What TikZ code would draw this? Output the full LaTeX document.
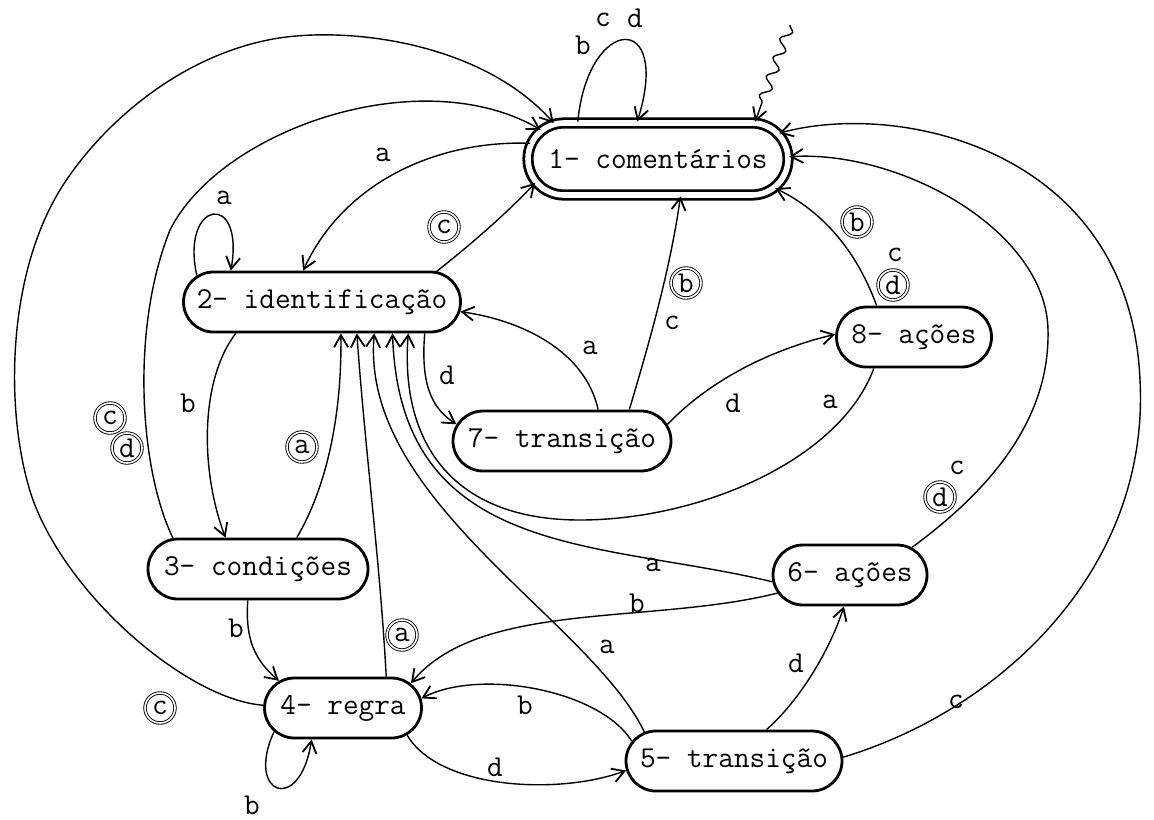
\documentclass[tikz,border=0pt]{standalone}
\usepackage{tikz}
\usetikzlibrary{arrows.meta}
\usetikzlibrary{shapes.misc}
\usetikzlibrary{decorations.pathmorphing}

\newcommand{\estadotxt}[1]{\makebox[0pt]{#1}}

\tikzset{
  estado/.style={rounded rectangle, draw, line width=1.4pt, minimum height=30pt,
    inner xsep=0pt, inner ysep=2pt, font=\ttfamily\fontsize{15.2}{18}\selectfont},
  rotulo/.style={inner sep=1pt, font=\ttfamily\fontsize{15.2}{18}\selectfont},
  circulo/.style={rotulo, circle, draw, double, line width=0.45pt, double distance=0.8pt,
    minimum size=15pt, inner sep=0pt},
  aresta/.style={-{Straight Barb[length=6pt,width=7pt,line width=0.9pt]}, line width=0.7pt}
}

\begin{document}
\begin{tikzpicture}[x=0.5pt, y=-0.5pt]
\useasboundingbox (0,0) rectangle (1154,819);

\node[estado, double, double distance=2.8pt, minimum width=130pt, minimum height=36pt] (n1) at (658,159) {\estadotxt{1- comentários}};
\node[estado, minimum width=138.5pt] (n2) at (322,302) {\estadotxt{2- identificação}};
\node[estado, minimum width=110pt] (n3) at (258,569) {\estadotxt{3- condições}};
\node[estado, minimum width=78.5pt] (n4) at (343,708) {\estadotxt{4- regra}};
\node[estado, minimum width=108pt] (n5) at (734,761) {\estadotxt{5- transição}};
\node[estado, minimum width=77pt] (n6) at (850,575) {\estadotxt{6- ações}};
\node[estado, minimum width=109pt] (n7) at (562,441) {\estadotxt{7- transição}};
\node[estado, minimum width=77.5pt] (n8) at (914,337) {\estadotxt{8- ações}};
\coordinate (ini) at (790,25);

\draw[aresta, decorate, decoration={snake, amplitude=2.5pt, segment length=10pt, post length=7pt}] (ini) -- (n1.21);
\draw[aresta] (n1.155) .. controls (588,15) and (672,10) .. (n1.119);
\draw[aresta] (n1.173) .. controls (440,140) and (345,180) .. (n2.121);
\draw[aresta] (n2.15) .. controls (470,245) and (505,215) .. (n1.191);
\draw[aresta] (n2.168) .. controls (180,200) and (245,190) .. (n2.161);
\draw[aresta] (n3.160) .. controls (140,470) and (130,330) .. (170,230) .. controls (220,130) and (420,60) .. (n1.166);
\draw[aresta] (n4.178) .. controls (190,700) and (70,600) .. (33,500) .. controls (5,420) and (5,280) .. (60,190) .. controls (95,133) and (170,60) .. (268,40) .. controls (340,25) and (480,40) .. (n1.161);
\draw[aresta] (n2.200) .. controls (200,380) and (200,470) .. (n3.136);
\draw[aresta] (n3.39) .. controls (325,490) and (342,420) .. (n2.-59);
\draw[aresta] (n3.252) .. controls (245,640) and (255,660) .. (n4.157);
\draw[aresta] (n4.36) .. controls (380,560) and (365,450) .. (n2.-42);
\draw[aresta] (n4.199) .. controls (245,795) and (300,815) .. (n4.225);
\draw[aresta] (n4.-23) .. controls (440,790) and (560,795) .. (n5.185);
\draw[aresta] (n5.169) .. controls (600,690) and (480,668) .. (n4.7);
\draw[aresta] (n5.162) .. controls (590,620) and (360,500) .. (n2.-31);
\draw[aresta] (n5.44) .. controls (800,700) and (830,650) .. (n6.259);
\draw[aresta] (n5.2) .. controls (1000,710) and (1150,570) .. (1140,380) .. controls (1130,150) and (900,100) .. (n1.12);
\draw[aresta] (n6.24) .. controls (990,490) and (1050,420) .. (1048,330) .. controls (1046,230) and (900,150) .. (n1.1);
\draw[aresta] (n8.140) .. controls (860,260) and (830,215) .. (n1.-14);
\draw[aresta] (n8.218) .. controls (840,460) and (700,520) .. (580,520) .. controls (450,520) and (400,440) .. (n2.-20);
\draw[aresta] (n6.185) .. controls (600,540) and (400,560) .. (n2.-24);
\draw[aresta] (n6.194) .. controls (650,625) and (480,600) .. (n4.20);
\draw[aresta] (n7.41) .. controls (585,350) and (520,320) .. (n2.-4);
\draw[aresta] (n2.-17) .. controls (420,390) and (435,410) .. (n7.171);
\draw[aresta] (n7.25) .. controls (650,340) and (670,270) .. (n1.-59);
\draw[aresta] (n7.9) .. controls (710,380) and (770,350) .. (n8.178);

\node[rotulo] (l1) at (583,45) {b};
\node[rotulo] (l2) at (603,20) {c};
\node[rotulo] (l3) at (635,18) {d};
\node[rotulo] (l4) at (383,155) {a};
\node[circulo] (l5) at (444,227) {c};
\node[rotulo] (l6) at (224,198) {a};
\node[circulo] (l7) at (110,418) {c};
\node[circulo] (l8) at (127,448) {d};
\node[circulo] (l9) at (160,708) {c};
\node[rotulo] (l10) at (188,403) {b};
\node[circulo] (l11) at (302,447) {a};
\node[rotulo] (l12) at (236,628) {b};
\node[circulo] (l13) at (402,635) {a};
\node[rotulo] (l14) at (252,805) {b};
\node[rotulo] (l15) at (495,767) {d};
\node[rotulo] (l16) at (525,705) {b};
\node[rotulo] (l17) at (607,647) {a};
\node[rotulo] (l18) at (796,663) {d};
\node[rotulo] (l19) at (956,702) {c};
\node[rotulo] (l20) at (957,468) {c};
\node[circulo] (l21) at (940,497) {d};
\node[circulo] (l22) at (857,222) {b};
\node[rotulo] (l23) at (895,255) {c};
\node[circulo] (l24) at (893,285) {d};
\node[rotulo] (l25) at (830,402) {a};
\node[rotulo] (l26) at (653,565) {a};
\node[rotulo] (l27) at (637,603) {b};
\node[rotulo] (l28) at (590,348) {a};
\node[rotulo] (l29) at (447,375) {d};
\node[circulo] (l30) at (686,283) {b};
\node[rotulo] (l31) at (672,323) {c};
\node[rotulo] (l32) at (733,403) {d};
\end{tikzpicture}
\end{document}
